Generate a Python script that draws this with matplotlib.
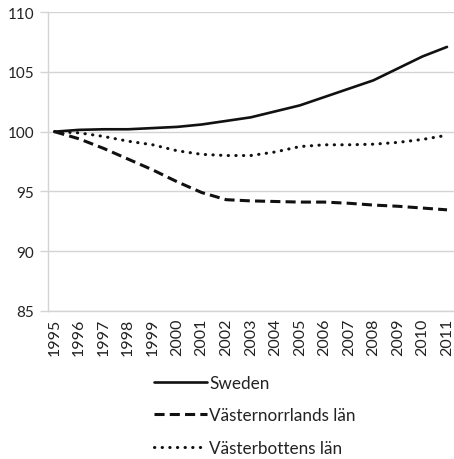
import matplotlib
matplotlib.use("Agg")
import matplotlib.pyplot as plt

# index values, 1995 = 100
years = list(range(1995, 2012))
sweden = [100.0, 100.15, 100.2, 100.2, 100.3, 100.4, 100.6, 100.9, 101.2, 101.7,
          102.2, 102.9, 103.6, 104.3, 105.3, 106.3, 107.1]
vasternorrland = [100.0, 99.4, 98.6, 97.7, 96.8, 95.8, 94.9, 94.3, 94.2, 94.15,
                  94.1, 94.1, 94.0, 93.85, 93.75, 93.6, 93.45]
vasterbotten = [100.0, 99.9, 99.6, 99.2, 98.9, 98.4, 98.1, 98.0, 98.0, 98.3,
                98.75, 98.9, 98.9, 98.95, 99.1, 99.35, 99.7]
labels = ["Sweden", "Västernorrlands län", "Västerbottens län"]
yticks = [85, 90, 95, 100, 105, 110]

plt.rcParams['font.family'] = ['Lato', 'DejaVu Sans']
txt = '#222222'
grid = '#d4d4d4'

fig = plt.figure(figsize=(4.54, 4.60), dpi=100)
ax = fig.add_axes([48/454, 1 - 311.7/460, 406/454, (311.7 - 13.3)/460])

ax.plot(years, sweden, color='#111111', lw=1.9, solid_capstyle='round', label=labels[0])
ax.plot(years, vasternorrland, color='#111111', lw=2.2, dashes=(3.3, 1.7),
        dash_capstyle='butt', label=labels[1])
ax.plot(years, vasterbotten, color='#111111', lw=2.2, linestyle=(0, (0.1, 2.4)),
        dash_capstyle='round', label=labels[2])

ax.set_xlim(1994.735, 2011.285)
ax.set_ylim(85, 110)
ax.set_yticks(yticks)
ax.set_xticks(years)
ax.set_xticklabels([str(y) for y in years], rotation=90, fontsize=11.5, color=txt)
ax.tick_params(axis='y', labelsize=11, labelcolor=txt, color=grid, length=6, width=1, pad=4)
ax.tick_params(axis='x', length=0, pad=5)
ax.grid(axis='y', color=grid, lw=1)
ax.set_axisbelow(True)
for s in ['top', 'right']:
    ax.spines[s].set_visible(False)
ax.spines['left'].set_color(grid)
ax.spines['bottom'].set_color(grid)
ax.spines['left'].set_linewidth(1)
ax.spines['bottom'].set_linewidth(1)

fig.legend(loc='upper left', bbox_to_anchor=(145/454, 1 - 367/460), frameon=False,
           fontsize=12.3, handlelength=3.1, handletextpad=0.15, labelspacing=0.98,
           borderpad=0, labelcolor=txt)

fig.savefig("out.png", dpi=100)
